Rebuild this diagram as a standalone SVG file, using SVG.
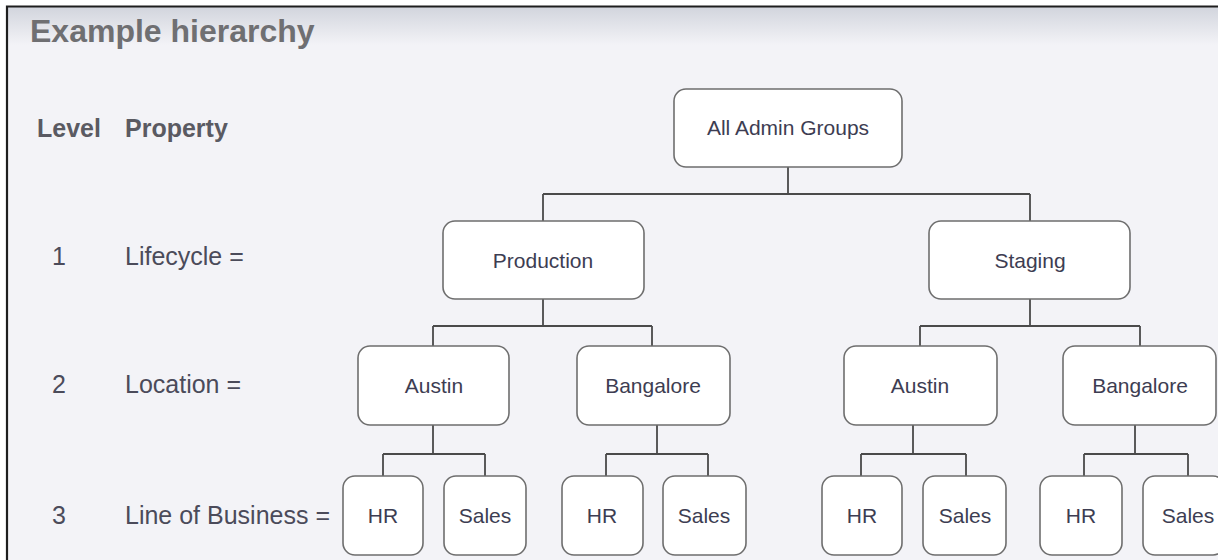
<svg xmlns="http://www.w3.org/2000/svg" width="1218" height="560" viewBox="0 0 1218 560">
<defs>
<linearGradient id="hdr" x1="0" y1="0" x2="0" y2="1">
<stop offset="0" stop-color="#d2d5dd"/>
<stop offset="1" stop-color="#f3f3f7"/>
</linearGradient>
<style>
.node rect{fill:#ffffff;stroke:#6e6e6e;stroke-width:1.6}
.node text{font-family:"Liberation Sans",Arial,sans-serif;font-size:21px;fill:#3d3d52;text-anchor:middle}
.conn path{fill:none;stroke:#4a4a4a;stroke-width:1.8}
.lbl{font-family:"Liberation Sans",Arial,sans-serif;font-size:25px;fill:#4b4b5a}
.hd{font-family:"Liberation Sans",Arial,sans-serif;font-size:25px;font-weight:bold;fill:#5a5a62}
.title{font-family:"Liberation Sans",Arial,sans-serif;font-size:32px;font-weight:bold;fill:#6f6f72}
</style>
</defs>
<rect x="0" y="0" width="1218" height="560" fill="#ffffff"/>
<rect x="7" y="7" width="1211" height="553" fill="#f3f3f7"/>
<rect x="7" y="7" width="1211" height="38" fill="url(#hdr)"/>
<path d="M7 560 V6.5 H1218" fill="none" stroke="#1e1e1e" stroke-width="2.2"/>
<text class="title" x="30" y="42">Example hierarchy</text>
<text class="hd" x="37" y="137">Level</text>
<text class="hd" x="125" y="137">Property</text>
<text class="lbl" x="52" y="265">1</text>
<text class="lbl" x="125" y="265">Lifecycle =</text>
<text class="lbl" x="52" y="393">2</text>
<text class="lbl" x="125" y="393">Location =</text>
<text class="lbl" x="52" y="524">3</text>
<text class="lbl" x="125" y="524">Line of Business =</text>
<g class="conn" id="connectors">
<path d="M788 167 V194 M543 194 H1030 M543 194 V221 M1030 194 V221"/>
<path d="M543 299 V326 M433 326 H652 M433 326 V346 M652 326 V346"/>
<path d="M1030 299 V326 M920 326 H1140 M920 326 V346 M1140 326 V346"/>
<path d="M433 425 V454 M383 454 H485 M383 454 V476 M485 454 V476"/>
<path d="M657 425 V454 M606 454 H708 M606 454 V476 M708 454 V476"/>
<path d="M913 425 V454 M861 454 H966 M861 454 V476 M966 454 V476"/>
<path d="M1135 425 V454 M1084 454 H1188 M1084 454 V476 M1188 454 V476"/>
</g>
<g class="node" id="root"><rect x="674" y="89" width="228" height="78" rx="12"/><text x="788" y="135">All Admin Groups</text></g>
<g class="node" id="production"><rect x="443" y="221" width="201" height="78" rx="12"/><text x="543" y="268">Production</text></g>
<g class="node" id="staging"><rect x="929" y="221" width="201" height="78" rx="12"/><text x="1030" y="268">Staging</text></g>
<g class="node" id="prod-austin"><rect x="358" y="346" width="151" height="79" rx="12"/><text x="434" y="393">Austin</text></g>
<g class="node" id="prod-bangalore"><rect x="577" y="346" width="153" height="79" rx="12"/><text x="653" y="393">Bangalore</text></g>
<g class="node" id="stag-austin"><rect x="844" y="346" width="153" height="79" rx="12"/><text x="920" y="393">Austin</text></g>
<g class="node" id="stag-bangalore"><rect x="1063" y="346" width="153" height="79" rx="12"/><text x="1140" y="393">Bangalore</text></g>
<g class="node" id="prod-austin-hr"><rect x="343" y="476" width="80" height="79" rx="12"/><text x="383" y="523">HR</text></g>
<g class="node" id="prod-austin-sales"><rect x="444" y="476" width="82" height="79" rx="12"/><text x="485" y="523">Sales</text></g>
<g class="node" id="prod-bangalore-hr"><rect x="562" y="476" width="81" height="79" rx="12"/><text x="602" y="523">HR</text></g>
<g class="node" id="prod-bangalore-sales"><rect x="663" y="476" width="83" height="79" rx="12"/><text x="704" y="523">Sales</text></g>
<g class="node" id="stag-austin-hr"><rect x="822" y="476" width="80" height="79" rx="12"/><text x="862" y="523">HR</text></g>
<g class="node" id="stag-austin-sales"><rect x="923" y="476" width="83" height="79" rx="12"/><text x="965" y="523">Sales</text></g>
<g class="node" id="stag-bangalore-hr"><rect x="1040" y="476" width="82" height="79" rx="12"/><text x="1081" y="523">HR</text></g>
<g class="node" id="stag-bangalore-sales"><rect x="1143" y="476" width="82" height="79" rx="12"/><text x="1188" y="523">Sales</text></g>
</svg>
